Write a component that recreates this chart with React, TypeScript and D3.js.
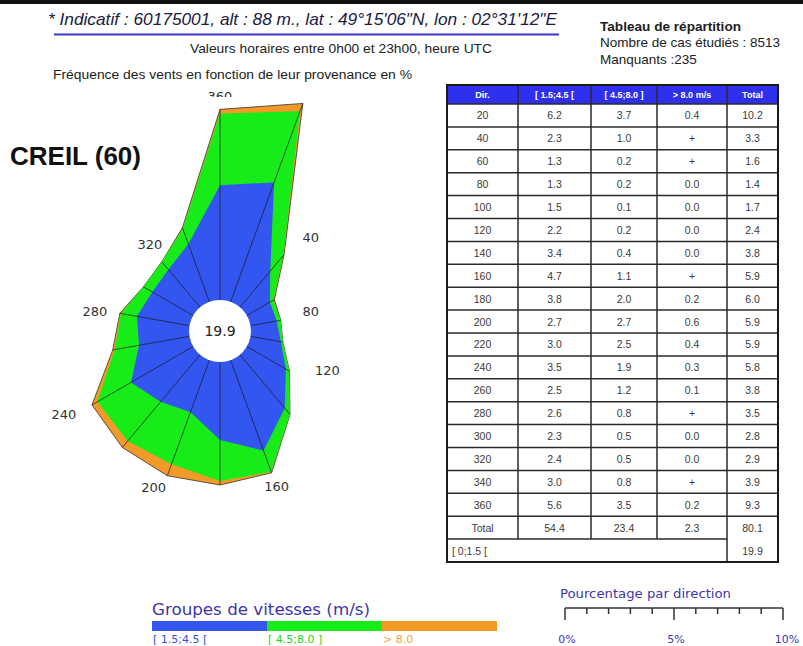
import React from 'react';
import * as d3 from 'd3';

// ---------- data ----------
const directions = [20, 40, 60, 80, 100, 120, 140, 160, 180, 200, 220, 240, 260, 280, 300, 320, 340, 360];
const speedLow = [6.2, 2.3, 1.3, 1.3, 1.5, 2.2, 3.4, 4.7, 3.8, 2.7, 3.0, 3.5, 2.5, 2.6, 2.3, 2.4, 3.0, 5.6];
const speedMid = [3.7, 1.0, 0.2, 0.2, 0.1, 0.2, 0.4, 1.1, 2.0, 2.7, 2.5, 1.9, 1.2, 0.8, 0.5, 0.5, 0.8, 3.5];
const speedHigh = ['0.4', '+', '+', '0.0', '0.0', '0.0', '0.0', '+', '0.2', '0.6', '0.4', '0.3', '0.1', '+', '0.0', '0.0', '+', '0.2'];
const totals = ['10.2', '3.3', '1.6', '1.4', '1.7', '2.4', '3.8', '5.9', '6.0', '5.9', '5.9', '5.8', '3.8', '3.5', '2.8', '2.9', '3.9', '9.3'];
const columnTotals = ['54.4', '23.4', '2.3', '80.1'];
const calmLabel = '[ 0;1.5 [';
const calmValue = '19.9';
const tableHeaders = ['Dir.', '[ 1.5;4.5 [', '[ 4.5;8.0 ]', '> 8.0 m/s', 'Total'];
const speedClasses = ['[ 1.5;4.5 [', '[ 4.5;8.0 ]', '> 8.0'];
const roseLabelDirs = [40, 80, 120, 160, 200, 240, 280, 320, 360];
const scaleTicks = [0, 1, 2, 3, 4, 5, 6, 7, 8, 9, 10];
const scaleLabels = [0, 5, 10];

// ---------- layout / styles ----------
// label placement: [bearing of label, extra radius beyond the outer polygon]
const labelLayout: Record<number, [number, number]> = {
  40: [44, 31], 80: [78, 31], 120: [110, 34], 160: [160, 15], 200: [203, 16],
  240: [242, 29], 280: [279, 25], 320: [321, 21], 360: [0, 13],
};
const COL_BLUE = '#3355f0';
const COL_GREEN = '#18ec18';
const COL_ORANGE = '#f29a28';
const LEG_TEXT = '#3d35b0';
const SANS = '"Liberation Sans", Arial, sans-serif';
const DEJA = '"DejaVu Sans", sans-serif';

const plus = (s: string) => (s === '+' ? 0.05 : parseFloat(s));

export default function App() {
  const W = 803, H = 646;
  const cx = 220, cy = 331;
  const holeR = 31;
  const rScale = d3.scaleLinear().domain([0, 10]).range([31, 236]);
  const rad = (d: number) => (d * Math.PI) / 180;

  const idx = directions.map((_, i) => i);
  const cumLow = idx.map(i => speedLow[i]);
  const cumMid = idx.map(i => speedLow[i] + speedMid[i]);
  const cumAll = idx.map(i => speedLow[i] + speedMid[i] + plus(speedHigh[i]));

  const poly = (vals: number[]) =>
    d3.lineRadial<number>()
      .angle(i => rad(directions[i]))
      .radius(i => rScale(vals[i]))
      .curve(d3.curveLinearClosed)(idx) as string;

  const pt = (d: number, r: number) => [r * Math.sin(rad(d)), -r * Math.cos(rad(d))];

  // table geometry
  const colX = [447, 518, 591, 657, 727, 778];
  const headTop = 85, headBot = 104;
  const rowKeys = d3.range(20);
  const rowY = d3.scaleBand<number>().domain(rowKeys).range([headBot, 562]);
  const rowH = rowY.bandwidth();
  const colMid = (c: number) => (colX[c] + colX[c + 1]) / 2;
  const totalRowBottom = (rowY(18) as number) + rowH;

  // legend
  const legX = d3.scaleBand<string>().domain(speedClasses).range([152, 497]);
  const legColors = [COL_BLUE, COL_GREEN, COL_ORANGE];
  const legTextColors = ['#3355dd', '#22d622', '#f0a53a'];

  // percentage scale
  const pScale = d3.scaleLinear().domain([0, 10]).range([565, 783]);

  return (
    <svg width={W} height={H} style={{ position: 'absolute', left: 0, top: 0, background: '#fff' }}>
      <defs>
        <clipPath id="topClip"><rect x={0} y={0} width={W} height={97} /></clipPath>
      </defs>
      <rect x={0} y={0} width={W} height={H} fill="#fff" />
      <rect x={0} y={0} width={W} height={4} fill="#111" />

      {/* header texts */}
      <text x={48} y={25} fontFamily={SANS} fontStyle="italic" fontSize={17} fill="#1a1a44"
        textLength={509} lengthAdjust="spacingAndGlyphs">
        {'* Indicatif : 60175001, alt : 88 m., lat : 49°15\'06"N, lon : 02°31\'12"E'}
      </text>
      <line x1={54} x2={559} y1={34.5} y2={34.5} stroke="#3838c8" strokeWidth={2} />
      <text x={190} y={53} fontFamily={SANS} fontSize={13.5} fill="#222" textLength={302} lengthAdjust="spacingAndGlyphs">
        Valeurs horaires entre 0h00 et 23h00, heure UTC
      </text>
      <text x={53} y={79} fontFamily={SANS} fontSize={12.5} fill="#222" textLength={359} lengthAdjust="spacingAndGlyphs">
        Fréquence des vents en fonction de leur provenance en %
      </text>
      <text x={600} y={31} fontFamily={SANS} fontWeight="bold" fontSize={13.6} fill="#222">Tableau de répartition</text>
      <text x={600} y={47} fontFamily={SANS} fontSize={13.5} fill="#222">Nombre de cas étudiés : 8513</text>
      <text x={600} y={64} fontFamily={SANS} fontSize={13.5} fill="#222">Manquants :235</text>

      <text x={10} y={165} fontFamily={SANS} fontWeight="bold" fontSize={26} fill="#111">CREIL (60)</text>

      {/* rose labels (under the rose) */}
      {roseLabelDirs.map(d => {
        const i = directions.indexOf(d);
        const [ang, pad] = labelLayout[d];
        const [x, y] = pt(ang, rScale(cumAll[i]) + pad);
        return (
          <text key={d} x={cx + x} y={cy + y} textAnchor="middle" dominantBaseline="central"
            clipPath={d === 360 ? 'url(#topClip)' : undefined}
            fontFamily={DEJA} fontSize={13} fill="#333">{d}</text>
        );
      })}

      {/* rose */}
      <g transform={`translate(${cx},${cy})`}>
        <path d={poly(cumAll)} fill={COL_ORANGE} stroke="#333" strokeWidth={0.8} strokeLinejoin="round" />
        <path d={poly(cumMid)} fill={COL_GREEN} />
        <path d={poly(cumLow)} fill={COL_BLUE} />
        {idx.map(i => {
          const [x1, y1] = pt(directions[i], holeR);
          const [x2, y2] = pt(directions[i], rScale(cumAll[i]));
          return <line key={i} x1={x1} y1={y1} x2={x2} y2={y2} stroke="#1a1a1a" strokeWidth={0.7} />;
        })}
        <circle r={holeR} fill="#fff" />
        <text x={0} y={0} textAnchor="middle" dominantBaseline="central" fontFamily={DEJA} fontSize={14} fill="#222">
          {calmValue}
        </text>
      </g>

      {/* table */}
      <g fontFamily={SANS}>
        <rect x={colX[0]} y={headTop} width={colX[5] - colX[0]} height={headBot - headTop} fill="#2f2fee" />
        {tableHeaders.map((h, c) => (
          <text key={h} x={colMid(c)} y={(headTop + headBot) / 2} textAnchor="middle" dominantBaseline="central"
            fontSize={9} fontWeight="bold" fill="#fff">{h}</text>
        ))}
        {directions.map((d, i) => {
          const yMid = (rowY(i) as number) + rowH / 2;
          const cells = [String(d), speedLow[i].toFixed(1), speedMid[i].toFixed(1), speedHigh[i], totals[i]];
          return cells.map((t, c) => (
            <text key={`${i}-${c}`} x={colMid(c)} y={yMid} textAnchor="middle" dominantBaseline="central"
              fontSize={10.5} fill="#3a3a3a">{t}</text>
          ));
        })}
        {['Total', ...columnTotals].map((t, c) => (
          <text key={`tot-${c}`} x={colMid(c)} y={(rowY(18) as number) + rowH / 2} textAnchor="middle"
            dominantBaseline="central" fontSize={10.5} fill="#3a3a3a">{t}</text>
        ))}
        <text x={colX[0] + 5} y={(rowY(19) as number) + rowH / 2} dominantBaseline="central" fontSize={10.5} fill="#3a3a3a">
          {calmLabel}
        </text>
        <text x={colMid(4)} y={(rowY(19) as number) + rowH / 2} textAnchor="middle" dominantBaseline="central"
          fontSize={10.5} fill="#3a3a3a">{calmValue}</text>

        {/* horizontal lines */}
        {rowKeys.slice(0, 19).map(r => (
          <line key={`h${r}`} x1={colX[0]} x2={r === 18 ? colX[4] : colX[5]}
            y1={(rowY(r) as number) + rowH} y2={(rowY(r) as number) + rowH} stroke="#2a2a2a" strokeWidth={1.5} />
        ))}
        <line x1={colX[0]} x2={colX[5]} y1={headBot} y2={headBot} stroke="#2a2a2a" strokeWidth={1.5} />
        {/* vertical lines */}
        {[1, 2, 3].map(c => (
          <line key={`v${c}`} x1={colX[c]} x2={colX[c]} y1={headTop} y2={totalRowBottom} stroke="#2a2a2a" strokeWidth={1.5} />
        ))}
        <line x1={colX[4]} x2={colX[4]} y1={headTop} y2={562} stroke="#2a2a2a" strokeWidth={1.5} />
        <rect x={colX[0]} y={headTop} width={colX[5] - colX[0]} height={562 - headTop} fill="none" stroke="#1a1a1a" strokeWidth={2} />
      </g>

      {/* legend */}
      <text x={152} y={615} fontFamily={DEJA} fontSize={15} fill={LEG_TEXT} textLength={218} lengthAdjust="spacingAndGlyphs">
        Groupes de vitesses (m/s)
      </text>
      {speedClasses.map((s, i) => (
        <g key={s}>
          <rect x={legX(s)} y={621} width={legX.bandwidth()} height={10} fill={legColors[i]} />
          <text x={(legX(s) as number) + 1} y={643} fontFamily={DEJA} fontSize={11} fill={legTextColors[i]}>{s}</text>
        </g>
      ))}

      {/* percentage scale */}
      <text x={560} y={598} fontFamily={DEJA} fontSize={12.5} fill={LEG_TEXT} textLength={171} lengthAdjust="spacingAndGlyphs">
        Pourcentage par direction
      </text>
      <line x1={pScale(0)} x2={pScale(10)} y1={608} y2={608} stroke="#333" strokeWidth={1.5} />
      {scaleTicks.map(t => (
        <line key={t} x1={pScale(t)} x2={pScale(t)} y1={608} y2={scaleLabels.includes(t) ? 620 : 614}
          stroke="#333" strokeWidth={1.5} />
      ))}
      {scaleLabels.map(t => (
        <text key={t} x={pScale(t) + (t === 10 ? 4 : 2)} y={643} textAnchor="middle" fontFamily={DEJA} fontSize={11} fill={LEG_TEXT}>
          {t}%
        </text>
      ))}
    </svg>
  );
}
